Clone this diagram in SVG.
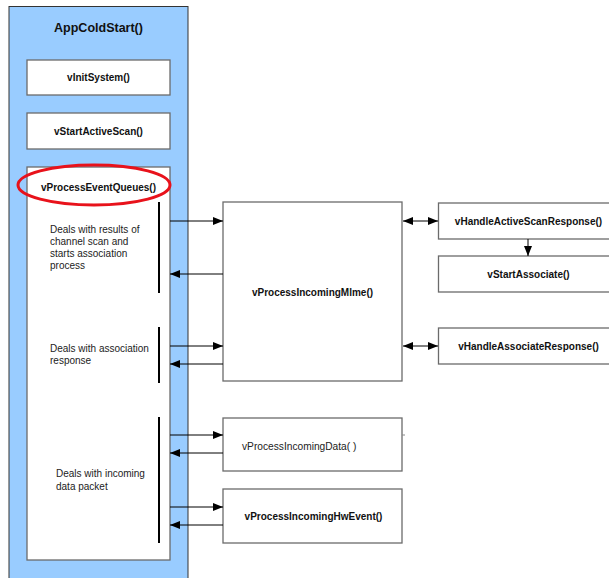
<svg xmlns="http://www.w3.org/2000/svg" width="609" height="578" viewBox="0 0 609 578">
  <defs>
    <marker id="ah" viewBox="0 0 10 8" refX="10" refY="4" markerWidth="10" markerHeight="8" markerUnits="userSpaceOnUse" orient="auto-start-reverse">
      <path d="M0,0 L10,4 L0,8 Z" fill="#000"/>
    </marker>
    <style>
      .box { fill: #fff; stroke: #6b6b6b; stroke-width: 1.3; }
      .lbl { font-family: "Liberation Sans", Arial, sans-serif; font-size: 10px; font-weight: bold; fill: #111; text-anchor: middle; }
      .note { font-family: "Liberation Sans", Arial, sans-serif; font-size: 10px; fill: #222; }
      .conn { stroke: #000; stroke-width: 1; fill: none; }
      .bar { stroke: #000; stroke-width: 2; }
    </style>
  </defs>

  <rect width="609" height="578" fill="#fff"/>

  <!-- AppColdStart container -->
  <g id="appcoldstart">
    <rect x="9" y="6.5" width="179" height="580" fill="#99ccff" stroke="#333" stroke-width="1"/>
    <text x="98.5" y="32" class="lbl" style="font-size:12.5px">AppColdStart()</text>
  </g>

  <g id="vinitsystem">
    <rect class="box" x="27" y="60" width="143" height="35"/>
    <text class="lbl" x="98.5" y="81">vInitSystem()</text>
  </g>

  <g id="vstartactivescan">
    <rect class="box" x="27" y="113" width="143" height="36"/>
    <text class="lbl" x="98.5" y="134.5">vStartActiveScan()</text>
  </g>

  <g id="vprocesseventqueues">
    <rect class="box" x="27" y="167" width="143" height="393"/>
    <text class="lbl" x="98.5" y="191">vProcessEventQueues()</text>
    <ellipse cx="94" cy="185" rx="76" ry="20" fill="none" stroke="#e8121b" stroke-width="3"/>
    <line class="bar" x1="159" y1="202" x2="159" y2="293"/>
    <line class="bar" x1="159" y1="327" x2="159" y2="383"/>
    <line class="bar" x1="159" y1="417" x2="159" y2="543"/>
    <text class="note" x="50" y="233">Deals with results of</text>
    <text class="note" x="50" y="245">channel scan and</text>
    <text class="note" x="50" y="257">starts association</text>
    <text class="note" x="50" y="269">process</text>
    <text class="note" x="50" y="352">Deals with association</text>
    <text class="note" x="50" y="364">response</text>
    <text class="note" x="56" y="477">Deals with incoming</text>
    <text class="note" x="56" y="490">data packet</text>
  </g>

  <g id="vprocessincomingmlme">
    <rect class="box" x="223" y="202" width="179" height="179"/>
    <text class="lbl" x="312.5" y="296">vProcessIncomingMlme()</text>
  </g>

  <g id="vhandleactivescanresponse">
    <rect class="box" x="438.5" y="203" width="175" height="36"/>
    <text class="lbl" x="528.5" y="224.5">vHandleActiveScanResponse()</text>
  </g>

  <g id="vstartassociate">
    <rect class="box" x="438.5" y="256" width="175" height="36"/>
    <text class="lbl" x="528.5" y="278">vStartAssociate()</text>
  </g>

  <g id="vhandleassociateresponse">
    <rect class="box" x="438.5" y="328" width="175" height="36"/>
    <text class="lbl" x="528.5" y="349.5">vHandleAssociateResponse()</text>
  </g>

  <g id="vprocessincomingdata">
    <rect class="box" x="223" y="418" width="179" height="53"/>
    <line x1="402" y1="435" x2="405" y2="435" stroke="#888" stroke-width="1"/>
    <text class="note" x="242" y="449.5" style="font-size:10.2px">vProcessIncomingData( )</text>
  </g>

  <g id="vprocessincominghwevent">
    <rect class="box" x="223" y="489" width="179" height="54"/>
    <text class="lbl" x="313.5" y="520">vProcessIncomingHwEvent()</text>
  </g>

  <!-- connectors -->
  <g id="connectors">
    <line class="conn" x1="170" y1="221" x2="223" y2="221" marker-end="url(#ah)"/>
    <line class="conn" x1="223" y1="274" x2="170" y2="274" marker-end="url(#ah)"/>
    <line class="conn" x1="170" y1="346" x2="223" y2="346" marker-end="url(#ah)"/>
    <line class="conn" x1="223" y1="364" x2="170" y2="364" marker-end="url(#ah)"/>
    <line class="conn" x1="170" y1="435" x2="223" y2="435" marker-end="url(#ah)"/>
    <line class="conn" x1="223" y1="453" x2="170" y2="453" marker-end="url(#ah)"/>
    <line class="conn" x1="170" y1="507" x2="223" y2="507" marker-end="url(#ah)"/>
    <line class="conn" x1="223" y1="525" x2="170" y2="525" marker-end="url(#ah)"/>
    <line class="conn" x1="403" y1="221" x2="438" y2="221" marker-start="url(#ah)" marker-end="url(#ah)"/>
    <line class="conn" x1="403" y1="346" x2="438" y2="346" marker-start="url(#ah)" marker-end="url(#ah)"/>
    <line class="conn" x1="528" y1="239" x2="528" y2="256" marker-end="url(#ah)"/>
  </g>
</svg>
